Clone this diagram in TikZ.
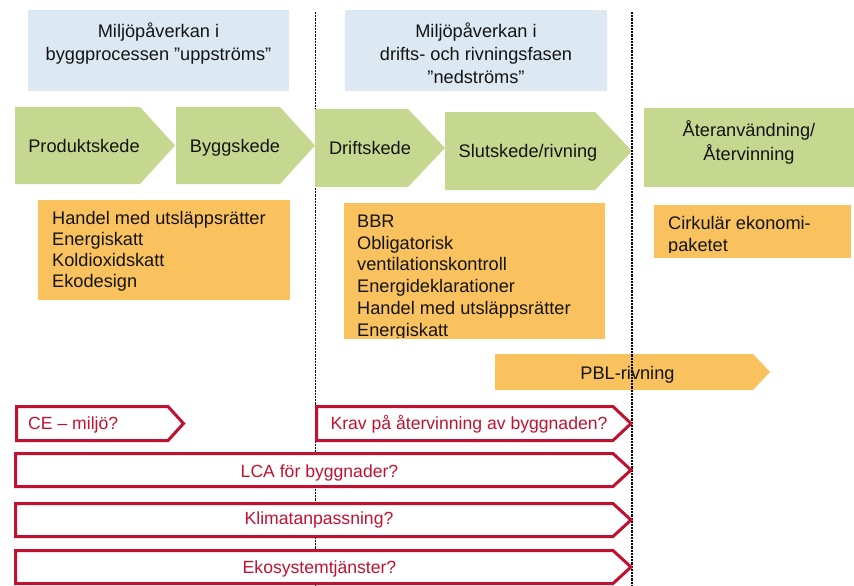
\documentclass[tikz,border=0pt]{standalone}
\usepackage{fontspec}
\setmainfont{Liberation Sans}
\definecolor{bluebg}{RGB}{220,233,242}
\definecolor{greenbg}{RGB}{198,216,143}
\definecolor{orangebg}{RGB}{250,194,95}
\definecolor{redline}{RGB}{192,18,48}
\definecolor{txt}{RGB}{20,20,20}
\newcommand{\fs}{\fontsize{18.2}{21.8}\selectfont}
\newcommand{\rfs}{\fontsize{17.6}{21.8}\selectfont}
\newcommand{\topstrut}{\rule{0pt}{14pt}}
\begin{document}
\begin{tikzpicture}[x=1pt,y=-1pt,
  bluebox/.style={fill=bluebg},
  greenshape/.style={fill=greenbg},
  orangeshape/.style={fill=orangebg},
  redshape/.style={draw=redline, line width=3pt, fill=white, line join=miter},
  divider/.style={line width=1.1pt, dash pattern=on 2.2pt off 1pt, black},
  lbl/.style={inner sep=0pt, text=txt, font=\fs},
  redlbl/.style={inner sep=0pt, text=redline, font=\rfs}]
\useasboundingbox[fill=white] (0,0) rectangle (854,586);

% dividers
\coordinate (d1top) at (315.5,12);
\coordinate (d1bot) at (315.5,586);
\coordinate (d2top) at (632,12);
\coordinate (d2bot) at (632,586);
\draw[divider] (d1top) -- (d1bot);

% blue header boxes
\fill[bluebox] (28,10) rectangle (289,91);
\fill[bluebox] (345,10) rectangle (607,91);
\node[lbl, anchor=north, align=center] (hup) at (158.5,22.3)
  {\topstrut Miljöpåverkan i\\[1.7pt]byggprocessen ”uppströms”};
\node[lbl, anchor=north, align=center] (hdown) at (476,22.3)
  {\topstrut Miljöpåverkan i\\[1.2pt]drifts- och rivningsfasen\\[1.2pt]”nedströms”};

% green phase arrows
\fill[greenshape] (15,107) -- (140,107) -- (175,145.5) -- (140,184) -- (15,184) -- cycle;
\fill[greenshape] (176,107) -- (280,107) -- (315,145.5) -- (280,184) -- (176,184) -- cycle;
\fill[greenshape] (315,109) -- (408,109) -- (445,148) -- (408,187) -- (315,187) -- cycle;
\fill[greenshape] (445,112) -- (595,112) -- (632,151) -- (595,190) -- (445,190) -- cycle;
\fill[greenshape] (644,108) rectangle (854,187);
\node[lbl, anchor=base] (prod) at (84,152) {Produktskede};
\node[lbl, anchor=base] (bygg) at (235,152) {Byggskede};
\node[lbl, anchor=base] (drift) at (370,154) {Driftskede};
\node[lbl, anchor=base] (slut) at (528,157) {Slutskede/rivning};
\node[lbl, anchor=north, align=center] (ater) at (749,120.5)
  {\topstrut Återanvändning/\\[2.5pt]Återvinning};

% orange instrument boxes
\fill[orangeshape] (38,200) rectangle (290,300);
\fill[orangeshape] (344,203) rectangle (605,339);
\fill[orangeshape] (654,205) rectangle (851,258);
\fill[orangeshape] (495,354) -- (753,354) -- (770,372) -- (753,390) -- (495,390) -- cycle;
\node[lbl, anchor=north west, align=left] (instup) at (52,210.5)
  {\topstrut Handel med utsläppsrätter\\[-0.8pt]Energiskatt\\[-0.8pt]Koldioxidskatt\\[-0.8pt]Ekodesign};
\begin{scope}
  \clip (344,203) rectangle (605,337);
  \node[lbl, anchor=north west, align=left] (instdown) at (357,213)
    {\topstrut BBR\\Obligatorisk\\ventilationskontroll\\Energideklarationer\\Handel med utsläppsrätter\\Energiskatt};
\end{scope}
\begin{scope}
  \clip (654,205) rectangle (851,252.5);
  \node[lbl, anchor=north west, align=left] (circ) at (668,215)
    {\topstrut Cirkulär ekonomi-\\[0.2pt]paketet};
\end{scope}
\node[lbl, anchor=base] (pbl) at (627.5,379) {PBL-rivning};

\draw[divider] (d2top) -- (d2bot);

% red open questions
\draw[redshape] (16.5,406.5) -- (168,406.5) -- (183.5,423.5) -- (168,440.5) -- (16.5,440.5) -- cycle;
\draw[redshape] (316.5,406.5) -- (613,406.5) -- (631,423.5) -- (613,440.5) -- (316.5,440.5) -- cycle;
\draw[redshape] (15.5,453.5) -- (613,453.5) -- (631,470) -- (613,486.5) -- (15.5,486.5) -- cycle;
\draw[redshape] (15.5,503.5) -- (613,503.5) -- (631,520) -- (613,536.5) -- (15.5,536.5) -- cycle;
\draw[redshape] (15.5,550.5) -- (613,550.5) -- (631,567) -- (613,583.5) -- (15.5,583.5) -- cycle;
\node[redlbl, anchor=base west] (ce) at (28,429.5) {CE – miljö?};
\node[redlbl, anchor=base] (krav) at (469,429.5) {Krav på återvinning av byggnaden?};
\node[redlbl, anchor=base] (lca) at (319.5,477) {LCA för byggnader?};
\node[redlbl, anchor=base] (klimat) at (319,524.5) {Klimatanpassning?};
\node[redlbl, anchor=base] (eko) at (319.5,573) {Ekosystemtjänster?};
\end{tikzpicture}
\end{document}
